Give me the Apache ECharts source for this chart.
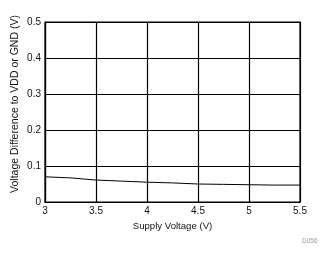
<!DOCTYPE html>
<html><head><meta charset="utf-8">
<script src="https://cdn.jsdelivr.net/npm/echarts@6/dist/echarts.min.js"></script>
<style>html,body{margin:0;padding:0;background:#fff}#c{width:329px;height:254px}</style>
</head><body><div id="c"></div>
<script>
const supplyVoltage = [3, 3.25, 3.5, 3.75, 4, 4.25, 4.5, 4.75, 5, 5.25, 5.5];
const voltageDiff = [0.070, 0.067, 0.061, 0.058, 0.055, 0.053, 0.050, 0.049, 0.048, 0.047, 0.047];
const xTitle = 'Supply Voltage (V)';
const yTitle = 'Voltage Difference to VDD or GND (V)';
const chart = echarts.init(document.getElementById('c'), null, {renderer: 'canvas'});
const font = 'Liberation Sans, Arial, sans-serif';
chart.setOption({
  animation: false,
  grid: {left: 45, top: 22, width: 255, height: 180, show: true, borderColor: '#000', borderWidth: 1.2},
  xAxis: {
    type: 'value', min: 3, max: 5.5, interval: 0.5,
    name: xTitle, nameLocation: 'middle', nameGap: 18,
    nameTextStyle: {fontFamily: font, fontSize: 9.6, color: '#111'},
    axisLine: {show: true, lineStyle: {color: '#000', width: 1.2}},
    axisTick: {show: false},
    axisLabel: {fontFamily: font, fontSize: 10, color: '#111', margin: 4},
    splitLine: {show: true, lineStyle: {color: '#000', width: 1.2}}
  },
  yAxis: {
    type: 'value', min: 0, max: 0.5, interval: 0.1,
    axisLine: {show: true, lineStyle: {color: '#000', width: 1.2}},
    axisTick: {show: false},
    axisLabel: {fontFamily: font, fontSize: 10, color: '#111', margin: 4},
    splitLine: {show: true, lineStyle: {color: '#000', width: 1.2}}
  },
  graphic: [
    {type: 'text', x: 15, y: 104, rotation: Math.PI / 2,
     style: {text: yTitle, fontFamily: font, fontSize: 10.5, fill: '#111', align: 'center', verticalAlign: 'middle'}},
    {type: 'text', left: 302, top: 238, style: {text: 'D056', fontFamily: font, fontSize: 6.5, fill: '#999'}}
  ],
  series: [{
    type: 'line', data: supplyVoltage.map((x, i) => [x, voltageDiff[i]]),
    showSymbol: false, lineStyle: {color: '#000', width: 1}
  }]
});
</script></body></html>
